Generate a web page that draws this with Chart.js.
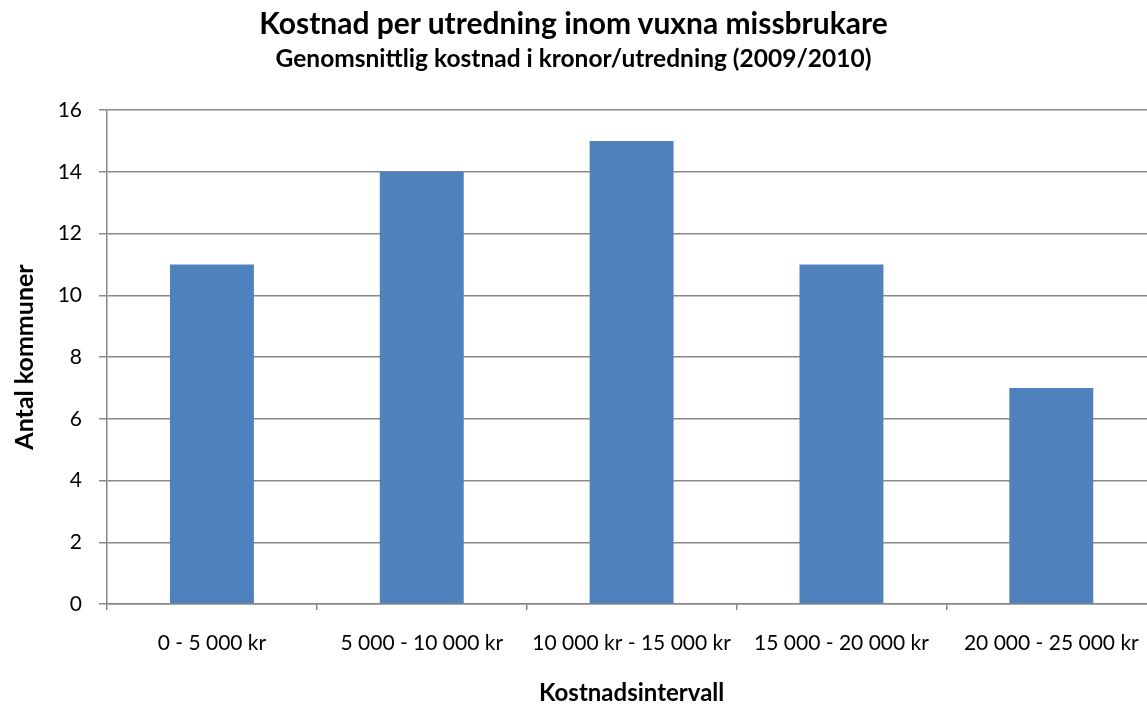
<!DOCTYPE html>
<html>
<head>
<meta charset="utf-8">
<script src="https://cdn.jsdelivr.net/npm/chart.js@4/dist/chart.umd.min.js"></script>
<style>
    body { margin: 0; overflow: hidden; background: #fff; font-family: Lato, sans-serif; }
    .titles { position: absolute; top: 0; left: 0; width: 1147px; text-align: center; color: #000; }
    .titles div { position: absolute; left: 0; width: 100%; line-height: 1.2; font-weight: bold; white-space: nowrap; }
    .titles .main { top: 4px; font-size: 30px; }
    .titles .sub { top: 43px; font-size: 24.5px; }
    #wrap { position: absolute; top: 0; left: 0; width: 1160px; height: 720px; }
</style>
</head>
<body>
<div id="wrap"><canvas id="cost-chart"></canvas></div>
<div class="titles">
    <div class="main">Kostnad per utredning inom vuxna missbrukare</div>
    <div class="sub">Genomsnittlig kostnad i kronor/utredning (2009/2010)</div>
</div>
<script>
const categories = [
    "0 - 5 000 kr",
    "5 000 - 10 000 kr",
    "10 000 kr - 15 000 kr",
    "15 000 - 20 000 kr",
    "20 000 - 25 000 kr",
];
const municipalities = [11, 14, 15, 11, 7];
const yTicks = [0, 2, 4, 6, 8, 10, 12, 14, 16];

const gridColor = "#888888";

const costContext = document.getElementById("cost-chart");

const costData = {
    labels: categories,
    datasets: [
        {
            label: "Antal kommuner",
            data: municipalities,
            backgroundColor: "#4f81bd",
            categoryPercentage: 1,
            barPercentage: 0.4,
        },
    ],
};

const costConfig = {
    type: "bar",
    data: costData,
    options: {
        responsive: true,
        maintainAspectRatio: false,
        animation: false,
        layout: { padding: { top: 110, left: 8, right: 3, bottom: 0 } },
        plugins: {
            legend: { display: false },
            tooltip: { enabled: false },
        },
        scales: {
            x: {
                afterFit: (scale) => {
                    scale.height = 116;
                },
                grid: {
                    drawOnChartArea: false,
                    drawTicks: true,
                    tickLength: 6,
                    color: gridColor,
                    lineWidth: 1.5,
                },
                border: { color: gridColor, width: 1.5 },
                ticks: {
                    color: "#000",
                    padding: 21,
                    maxRotation: 0,
                    autoSkip: false,
                    font: { family: "Lato", size: 21 },
                },
                title: {
                    display: true,
                    text: "Kostnadsintervall",
                    color: "#000",
                    font: { family: "Lato", size: 24, weight: "bold" },
                    padding: { top: 0, bottom: 12 },
                },
            },
            y: {
                min: yTicks[0],
                max: yTicks[yTicks.length - 1],
                afterBuildTicks: (scale) => {
                    scale.ticks = yTicks.map((v) => ({ value: v }));
                },
                afterFit: (scale) => {
                    scale.width = 99;
                },
                grid: {
                    color: gridColor,
                    lineWidth: 1.5,
                    tickLength: 8,
                },
                border: { color: gridColor, width: 1.5 },
                ticks: {
                    color: "#000",
                    padding: 17,
                    font: { family: "Lato", size: 21 },
                },
                title: {
                    display: true,
                    text: "Antal kommuner",
                    color: "#000",
                    font: { family: "Lato", size: 25, weight: "bold" },
                    padding: { top: 2, bottom: 0 },
                },
            },
        },
    },
};

const costChart = new Chart(costContext, costConfig);
</script>
</body>
</html>
